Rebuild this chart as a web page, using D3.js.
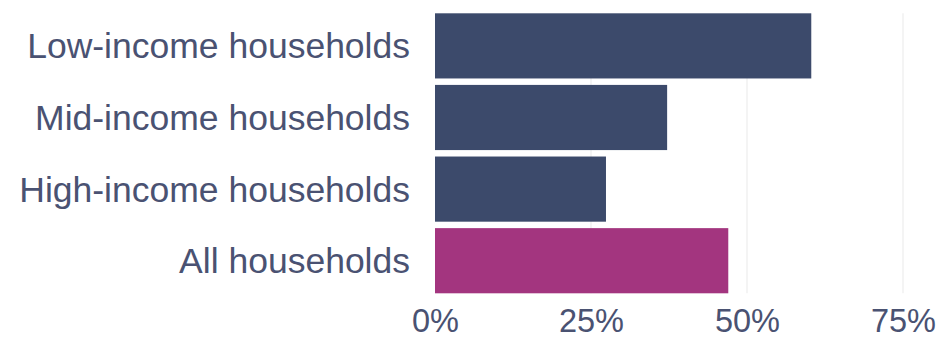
<!DOCTYPE html>
<html>
<head>
<meta charset="utf-8">
<script src="https://cdn.jsdelivr.net/npm/d3@7"></script>
<style>
  html, body { margin: 0; padding: 0; background: #ffffff; }
  svg { display: block; }
</style>
</head>
<body>
<svg id="chart" width="940" height="345"></svg>
<script>
// Share of households, by income group
const categories = ["Low-income households", "Mid-income households", "High-income households", "All households"];
const values = [0.603, 0.372, 0.274, 0.47];
const highlight = ["All households"];
const tickValues = [0, 0.25, 0.5, 0.75];

const width = 940, height = 345;
const margin = { top: 13.3, right: 37, bottom: 52, left: 435 };

const svg = d3.select("#chart");

const x = d3.scaleLinear()
  .domain([0, 0.75])
  .range([margin.left, width - margin.right]);

const y = d3.scaleBand()
  .domain(categories)
  .range([margin.top, height - margin.bottom + 0.3])
  .paddingInner(0.09)
  .paddingOuter(0);

const textColor = "#4a5272";
const barColor = "#3c4a6b";
const accentColor = "#a3357f";

// Vertical gridlines
svg.append("g")
  .selectAll("line")
  .data(tickValues.filter(d => d > 0))
  .join("line")
  .attr("x1", d => x(d))
  .attr("x2", d => x(d))
  .attr("y1", margin.top)
  .attr("y2", y.range()[1])
  .attr("stroke", "#ededed")
  .attr("stroke-width", 1.2);

// Bars
svg.append("g")
  .selectAll("rect")
  .data(categories.map((c, i) => ({ c, v: values[i] })))
  .join("rect")
  .attr("x", x(0))
  .attr("y", d => y(d.c))
  .attr("width", d => x(d.v) - x(0))
  .attr("height", y.bandwidth())
  .attr("fill", d => highlight.includes(d.c) ? accentColor : barColor);

// Category axis (labels only)
const yAxis = svg.append("g")
  .attr("transform", `translate(${x(0) - 25},0)`)
  .call(d3.axisLeft(y).tickSize(0).tickPadding(0));
yAxis.select(".domain").remove();
yAxis.selectAll("text")
  .attr("font-family", "'Liberation Sans', Arial, sans-serif")
  .attr("font-size", 35.5)
  .attr("fill", textColor)
  .attr("dy", "0.35em");

// Value axis (labels only)
const xAxis = svg.append("g")
  .attr("transform", `translate(0,${height - 24})`)
  .call(d3.axisBottom(x).tickValues(tickValues).tickFormat(d3.format(".0%")).tickSize(0).tickPadding(0));
xAxis.select(".domain").remove();
xAxis.selectAll("text")
  .attr("font-family", "'Liberation Sans', Arial, sans-serif")
  .attr("font-size", 32.5)
  .attr("fill", textColor)
  .attr("dy", "0.35em");
</script>
</body>
</html>
